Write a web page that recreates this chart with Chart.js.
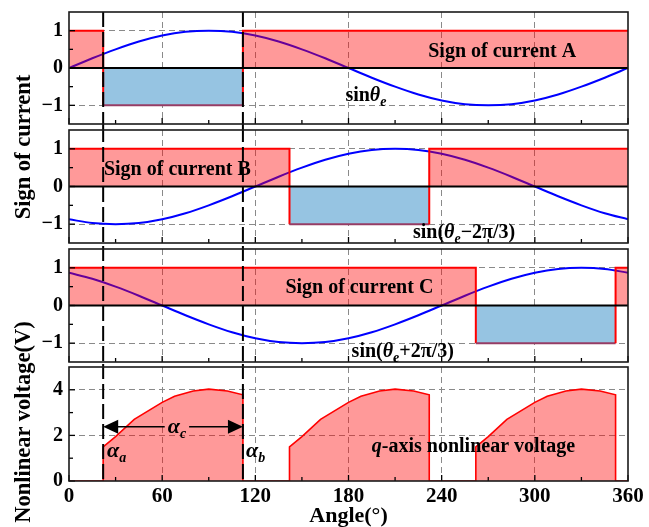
<!DOCTYPE html>
<html>
<head>
<meta charset="utf-8">
<script src="https://cdn.jsdelivr.net/npm/chart.js@4.4.1/dist/chart.umd.min.js"></script>
<style>
  body { margin: 0; background: #fff; width: 649px; height: 527px; position: relative; overflow: hidden; }
  .panel { position: absolute; left: 0; width: 649px; }
  .ytitle {
    position: absolute; white-space: nowrap; color: #000;
    font: bold 22.5px "Liberation Serif", "Times New Roman", serif;
    transform: translate(-50%, -50%) rotate(-90deg);
  }
</style>
</head>
<body>
<div class="panel" style="top:0;height:127px"><canvas id="panelA"></canvas></div>
<div class="panel" style="top:127px;height:119px"><canvas id="panelB"></canvas></div>
<div class="panel" style="top:246px;height:118px"><canvas id="panelC"></canvas></div>
<div class="panel" style="top:364px;height:166px"><canvas id="panelV"></canvas></div>
<div class="ytitle" style="left:23px;top:147px">Sign of current</div>
<div class="ytitle" style="left:23px;top:422px">Nonlinear voltage(V)</div>
<script>
const SERIF = '"Liberation Serif", "Times New Roman", serif';

// phase sine curves sampled every 15 degrees
const sineAngle = [0, 15, 30, 45, 60, 75, 90, 105, 120, 135, 150, 165, 180,
  195, 210, 225, 240, 255, 270, 285, 300, 315, 330, 345, 360];
const sinA = [0, 0.26, 0.5, 0.71, 0.87, 0.97, 1, 0.97, 0.87, 0.71, 0.5, 0.26, 0,
  -0.26, -0.5, -0.71, -0.87, -0.97, -1, -0.97, -0.87, -0.71, -0.5, -0.26, 0];
const sinB = [-0.87, -0.97, -1, -0.97, -0.87, -0.71, -0.5, -0.26, 0, 0.26, 0.5, 0.71, 0.87,
  0.97, 1, 0.97, 0.87, 0.71, 0.5, 0.26, 0, -0.26, -0.5, -0.71, -0.87];
const sinC = [0.87, 0.71, 0.5, 0.26, 0, -0.26, -0.5, -0.71, -0.87, -0.97, -1, -0.97, -0.87,
  -0.71, -0.5, -0.26, 0, 0.26, 0.5, 0.71, 0.87, 0.97, 1, 0.97, 0.87];

// sign of phase currents: switching angles and levels
const signAngleA = [0, 22, 22, 112, 112, 360];
const signAngleB = [0, 142, 142, 232, 232, 360];
const signAngleC = [0, 262, 262, 352, 352, 360];
const signLevel = [1, 1, -1, -1, 1, 1];

// q-axis nonlinear voltage
const voltAngle = [0, 22, 22, 30, 42, 60, 68, 80, 90, 102, 112,
  112, 142, 142, 150, 162, 180, 188, 200, 210, 222, 232,
  232, 262, 262, 270, 282, 300, 308, 320, 330, 342, 352, 352, 360];
const voltValue = [0, 0, 1.5, 1.95, 2.7, 3.45, 3.72, 3.95, 4.03, 3.95, 3.78,
  0, 0, 1.5, 1.95, 2.7, 3.45, 3.72, 3.95, 4.03, 3.95, 3.78,
  0, 0, 1.5, 1.95, 2.7, 3.45, 3.72, 3.95, 4.03, 3.95, 3.78, 0, 0];

const signTicks = [-1, 0, 1];
const signMinor = [-0.5, 0.5];
const voltTicks = [0, 2, 4];
const voltMinor = [1, 3];
const alphaAngles = [22, 112]; // alpha_a, alpha_b

// text runs: [text, style, role]
const notesA = [
  { x: 279, y: 0.29, align: 'center', runs: [['Sign of current A']] },
  { x: 178, y: -0.88, align: 'left', runs: [['sin'], ['θ', 'bi'], ['e', 'bi', 'sub']] },
];
const notesB = [
  { x: 22.5, y: 0.31, align: 'left', runs: [['Sign of current B']] },
  { x: 221.5, y: -1.37, align: 'left', runs: [['sin('], ['θ', 'bi'], ['e', 'bi', 'sub'], ['−2π/3)']] },
];
const notesC = [
  { x: 187, y: 0.33, align: 'center', runs: [['Sign of current C']] },
  { x: 182, y: -1.37, align: 'left', runs: [['sin('], ['θ', 'bi'], ['e', 'bi', 'sub'], ['+2π/3)']] },
];
const notesV = [
  { x: 195, y: 1.27, align: 'left', runs: [['q', 'bi'], ['-axis nonlinear voltage']] },
  { x: 24.5, y: 1.05, align: 'left', runs: [['α', 'bi', 'big'], ['a', 'bi', 'sub']] },
  { x: 114, y: 1.05, align: 'left', runs: [['α', 'bi', 'big'], ['b', 'bi', 'sub']] },
  { x: 69.5, y: 2.1, align: 'center', runs: [['α', 'bi', 'big'], ['c', 'bi', 'sub']], arrowY: 2.38 },
];

Chart.defaults.color = '#000';

function xy(xs, ys) {
  return xs.map((x, i) => ({ x, y: ys[i] }));
}

function runFont(style, role) {
  const size = role === 'sub' ? 14 : role === 'big' ? 22 : 20;
  return (style === 'bi' ? 'italic bold ' : 'bold ') + size + 'px ' + SERIF;
}

function drawRuns(ctx, runs, px, py, align) {
  let width = 0;
  for (const [t, s, r] of runs) { ctx.font = runFont(s, r); width += ctx.measureText(t).width; }
  let cx = align === 'center' ? px - width / 2 : px;
  const left = cx;
  ctx.fillStyle = '#000';
  ctx.textAlign = 'left';
  ctx.textBaseline = 'alphabetic';
  for (const [t, s, r] of runs) {
    ctx.font = runFont(s, r);
    ctx.fillText(t, cx, py + (r === 'sub' ? 5 : 0));
    cx += ctx.measureText(t).width;
  }
  return { left, width };
}

function arrowHead(ctx, tipX, y, dir) {
  ctx.beginPath();
  ctx.moveTo(tipX, y);
  ctx.lineTo(tipX + dir * 15, y - 7);
  ctx.lineTo(tipX + dir * 15, y + 7);
  ctx.closePath();
  ctx.fill();
}

function panelDecor(o) {
  return {
    id: 'decor',
    afterDatasetsDraw(chart) {
      const { ctx, chartArea: a, scales: { x, y } } = chart;
      const line = (x1, y1, x2, y2) => { ctx.beginPath(); ctx.moveTo(x1, y1); ctx.lineTo(x2, y2); ctx.stroke(); };
      ctx.save();
      ctx.strokeStyle = '#000';

      if (o.zeroLine) {
        ctx.lineWidth = 1.8;
        const p0 = y.getPixelForValue(0);
        line(a.left, p0, a.right, p0);
      }

      // inward ticks on bottom and left edges
      ctx.lineWidth = 1.3;
      for (let v = 0; v <= 360; v += 30) {
        const px = x.getPixelForValue(v);
        line(px, a.bottom, px, a.bottom - (v % 60 ? 4 : 6));
      }
      for (const v of o.yMinor) { const py = y.getPixelForValue(v); line(a.left, py, a.left + 4, py); }
      for (const v of o.yTicks) { const py = y.getPixelForValue(v); line(a.left, py, a.left + 6, py); }

      // commutation boundaries
      ctx.lineWidth = 2;
      ctx.setLineDash([15, 5]);
      for (const ang of alphaAngles) {
        const px = x.getPixelForValue(ang);
        line(px, o.first ? a.top : 0, px, o.last ? a.bottom : chart.height);
      }
      ctx.setLineDash([]);

      ctx.lineWidth = 1.6;
      ctx.strokeStyle = '#1a1a1a';
      ctx.strokeRect(a.left, a.top, a.right - a.left, a.bottom - a.top);

      for (const n of o.notes) {
        const box = drawRuns(ctx, n.runs, x.getPixelForValue(n.x), y.getPixelForValue(n.y), n.align);
        if (n.arrowY !== undefined) {
          const ay = y.getPixelForValue(n.arrowY);
          const xl = x.getPixelForValue(alphaAngles[0]);
          const xr = x.getPixelForValue(alphaAngles[1]);
          ctx.strokeStyle = '#000';
          ctx.fillStyle = '#000';
          ctx.lineWidth = 1.5;
          line(xl + 10, ay, box.left - 3, ay);
          line(box.left + box.width + 3, ay, xr - 10, ay);
          arrowHead(ctx, xl, ay, 1);
          arrowHead(ctx, xr, ay, -1);
        }
      }
      ctx.restore();
    }
  };
}

function makePanel(id, o) {
  const tickFont = { family: SERIF, size: 20, weight: 'bold' };
  new Chart(document.getElementById(id), {
    type: 'line',
    data: { datasets: o.datasets },
    options: {
      responsive: true,
      maintainAspectRatio: false,
      animation: false,
      layout: { padding: { left: 0, right: 21, top: o.pad[0], bottom: o.pad[1] } },
      elements: { point: { radius: 0 } },
      plugins: { legend: { display: false }, tooltip: { enabled: false } },
      scales: {
        x: {
          type: 'linear', min: 0, max: 360,
          ticks: {
            stepSize: 60, display: o.last, padding: 3, maxRotation: 0,
            font: { family: SERIF, size: 21, weight: 'bold' }
          },
          grid: {
            drawTicks: false, lineWidth: 1,
            color: c => (c.tick.value === 0 || c.tick.value === 360) ? 'rgba(0,0,0,0)' : '#8a8a8a'
          },
          border: { display: false, dash: [6, 4] },
          title: {
            display: o.last, text: 'Angle(°)', padding: { top: 0, bottom: 0 },
            font: { family: SERIF, size: 22, weight: 'bold' }
          },
          afterFit: s => {
            s.height = o.last ? 49 : 0;
            s.paddingLeft = 0;
            s.paddingRight = 0;
          }
        },
        y: {
          type: 'linear', min: o.yMin, max: o.yMax,
          afterBuildTicks: s => { s.ticks = o.yTicks.map(v => ({ value: v })); },
          ticks: {
            font: tickFont, padding: 6,
            callback: v => v < 0 ? '\u2212' + (-v) : String(v)
          },
          grid: {
            drawTicks: false, lineWidth: 1,
            color: c => c.tick.value === 0 ? 'rgba(0,0,0,0)' : '#8a8a8a'
          },
          border: { display: false, dash: [6, 4] },
          afterFit: s => {
            s.width = 69;
            s.paddingTop = 0;
            s.paddingBottom = 0;
          }
        }
      }
    },
    plugins: [panelDecor(o)]
  });
}

function signSet(angles) {
  return {
    data: xy(angles, signLevel),
    borderColor: 'red',
    borderWidth: 2,
    tension: 0,
    fill: { target: 'origin', above: 'rgba(255,0,0,0.4)', below: 'rgb(150,196,226)' },
    segment: {
      borderColor: c => (c.p0.parsed.y < 0 && c.p1.parsed.y < 0) ? 'rgb(150,60,100)' : 'red'
    }
  };
}

function sineSet(values) {
  return {
    data: xy(sineAngle, values),
    borderColor: 'rgb(0,0,255)',
    borderWidth: 2,
    cubicInterpolationMode: 'monotone',
    fill: false
  };
}

const signPanel = { yMin: -1.5, yMax: 1.5, yTicks: signTicks, yMinor: signMinor, zeroLine: true };

makePanel('panelA', { ...signPanel, pad: [12, 3], first: true, notes: notesA,
  datasets: [signSet(signAngleA), sineSet(sinA)] });
makePanel('panelB', { ...signPanel, pad: [3, 3], notes: notesB,
  datasets: [signSet(signAngleB), sineSet(sinB)] });
makePanel('panelC', { ...signPanel, pad: [3, 2], notes: notesC,
  datasets: [signSet(signAngleC), sineSet(sinC)] });
makePanel('panelV', { yMin: 0, yMax: 5, yTicks: voltTicks, yMinor: voltMinor, pad: [3, 0], last: true,
  notes: notesV,
  datasets: [{
    data: xy(voltAngle, voltValue),
    borderColor: 'red',
    borderWidth: 1.6,
    tension: 0,
    fill: { target: 'origin', above: 'rgba(255,0,0,0.4)' }
  }] });
</script>
</body>
</html>
